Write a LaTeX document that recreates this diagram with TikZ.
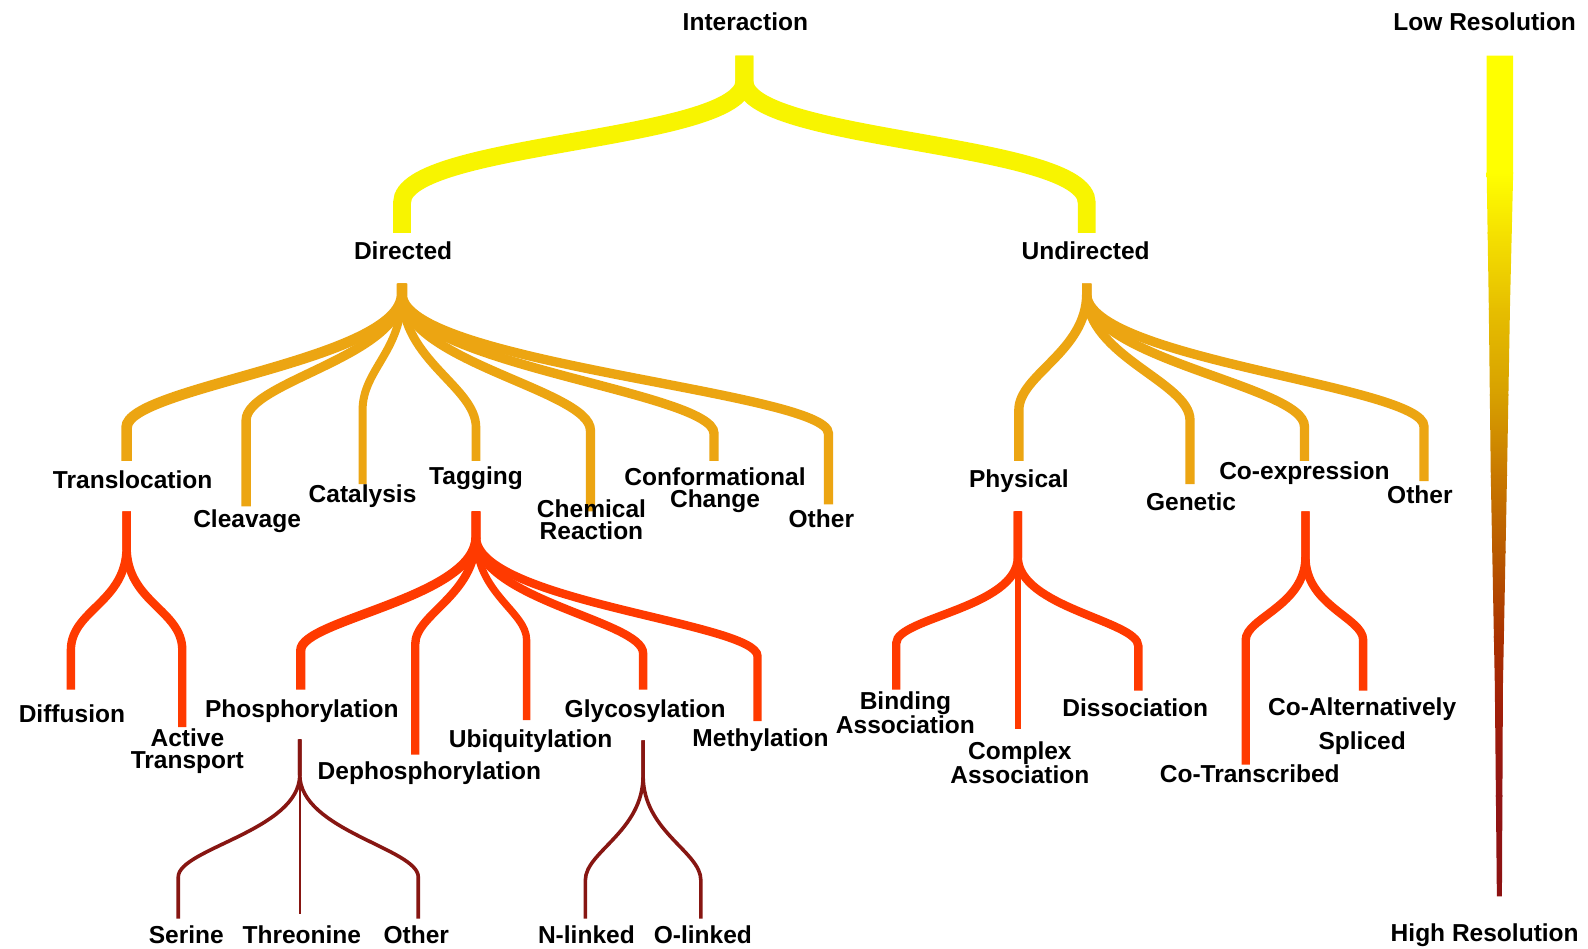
\documentclass[tikz,border=0pt]{standalone}
\usepackage{fontspec}
\setmainfont{Liberation Sans}
\usetikzlibrary{calc}
\definecolor{cyel}{RGB}{248,244,0}
\definecolor{corg}{RGB}{236,165,18}
\definecolor{cred}{RGB}{255,58,0}
\definecolor{cdrk}{RGB}{135,22,18}
\definecolor{bar0}{RGB}{255,255,0}
\definecolor{bar2}{RGB}{245,225,0}
\definecolor{bar3}{RGB}{230,190,0}
\definecolor{bar4}{RGB}{215,160,0}
\definecolor{bar5}{RGB}{200,120,0}
\definecolor{bar6}{RGB}{185,90,0}
\definecolor{bar7}{RGB}{170,50,0}
\definecolor{bar8}{RGB}{160,30,10}
\definecolor{bar9}{RGB}{145,20,20}
\definecolor{barx}{RGB}{140,18,18}
% #1 style, #2 parent stem top, #3 straight drop, #4 first control, #5 second control, #6 child end, #7 y where the curve turns vertical
\newcommand\twig[7]{\draw[#1] (#2) -- ++(0,#3) .. controls +(0,#4) and +(0,-#5) .. (#6 |- 0,#7) -- (#6);}
\begin{document}
\begin{tikzpicture}[x=0.76pt,y=-0.76pt, line cap=butt,
 lbl/.style={font=\bfseries\fontsize{18.4}{16.7}\selectfont, inner sep=0pt, align=center},
 yl/.style={draw=cyel, line width=13.4pt},
 ol/.style={draw=corg, line width=7pt},
 rl/.style={draw=cred, line width=6.3pt},
 dl/.style={draw=cdrk, line width=2.7pt}]
\useasboundingbox (0,0) rectangle (1568,937);
\fill[white] (0,0) rectangle (1568,937);
% stem tops and branch ends
\coordinate (int-s) at (735,55);
\coordinate (dir-e) at (397,230);
\coordinate (und-e) at (1073,230);
\coordinate (dir-s) at (397,280);
\coordinate (und-s) at (1073,280);
\coordinate (tra-e) at (125,455);
\coordinate (cle-e) at (243,500);
\coordinate (cat-e) at (358,478);
\coordinate (tag-e) at (470,455);
\coordinate (che-e) at (583,505);
\coordinate (con-e) at (705,455);
\coordinate (otha-e) at (818,498);
\coordinate (phy-e) at (1006,455);
\coordinate (gen-e) at (1175,478);
\coordinate (coe-e) at (1288,455);
\coordinate (othb-e) at (1406,475);
\coordinate (tra-s) at (125,505);
\coordinate (tag-s) at (470,505);
\coordinate (phy-s) at (1005,505);
\coordinate (coe-s) at (1289,505);
\coordinate (dif-e) at (70,681);
\coordinate (act-e) at (180,718);
\coordinate (pho-e) at (297,681);
\coordinate (dep-e) at (410,745);
\coordinate (ubi-e) at (520,711);
\coordinate (gly-e) at (635,681);
\coordinate (met-e) at (748,712);
\coordinate (bin-e) at (885,681);
\coordinate (com-e) at (1005,720);
\coordinate (dis-e) at (1124,682);
\coordinate (cot-e) at (1230,755);
\coordinate (coa-e) at (1346,682);
\coordinate (pho-s) at (296,730);
\coordinate (gly-s) at (635,731);
\coordinate (ser-e) at (176,907);
\coordinate (thr-e) at (296,902);
\coordinate (othc-e) at (413,907);
\coordinate (nli-e) at (578,907);
\coordinate (oli-e) at (692,907);
% level 1
\twig{yl}{int-s}{25}{60}{60}{dir-e}{200}
\twig{yl}{int-s}{25}{60}{60}{und-e}{200}
% level 2 directed
\twig{ol,line width=8pt}{dir-s}{10}{66}{40}{tra-e}{422}
\twig{ol}{dir-s}{10}{62}{38}{cle-e}{415}
\twig{ol,line width=6pt}{dir-s}{10}{57}{40}{cat-e}{405}
\twig{ol,line width=6.5pt}{dir-s}{10}{66}{40}{tag-e}{422}
\twig{ol}{dir-s}{10}{67}{40}{che-e}{425}
\twig{ol}{dir-s}{10}{69}{41}{con-e}{428}
\twig{ol}{dir-s}{10}{69}{41}{otha-e}{428}
% level 2 undirected
\twig{ol}{und-s}{10}{57}{35}{phy-e}{405}
\twig{ol}{und-s}{10}{62}{38}{gen-e}{415}
\twig{ol}{und-s}{10}{65}{40}{coe-e}{421}
\twig{ol}{und-s}{10}{65}{40}{othb-e}{421}
% level 3
\twig{rl}{tra-s}{35}{55}{40}{dif-e}{642}
\twig{rl}{tra-s}{35}{55}{40}{act-e}{642}
\twig{rl,line width=7pt}{tag-s}{25}{60}{30}{pho-e}{642}
\twig{rl}{tag-s}{25}{58}{30}{dep-e}{636}
\twig{rl,line width=5.5pt}{tag-s}{25}{56}{28}{ubi-e}{632}
\twig{rl}{tag-s}{25}{62}{32}{gly-e}{645}
\twig{rl}{tag-s}{25}{64}{33}{met-e}{648}
\twig{rl}{phy-s}{45}{50}{25}{bin-e}{635}
\draw[rl,line width=4.5pt] (phy-s) -- (com-e);
\twig{rl}{phy-s}{45}{50}{25}{dis-e}{638}
\twig{rl}{coe-s}{45}{48}{22}{cot-e}{632}
\twig{rl}{coe-s}{45}{48}{22}{coa-e}{632}
% level 4
\twig{dl}{pho-s}{35}{55}{28}{ser-e}{866}
\draw[dl,line width=1.9pt] (pho-s) -- (thr-e);
\twig{dl}{pho-s}{35}{55}{28}{othc-e}{866}
\twig{dl}{gly-s}{35}{55}{28}{nli-e}{869}
\twig{dl}{gly-s}{35}{55}{28}{oli-e}{869}
% resolution bar: tapered wedge, coloured in bands
\begin{scope}
\clip (1468,55) -- (1494,55) -- (1494,175) -- (1491,300) -- (1488,470) -- (1484,677) -- (1483,885) -- (1478,885) -- (1476,677) -- (1472,470) -- (1470,300) -- (1468,175) -- cycle;
\fill[bar0] (1460,54) rectangle (1500,172);
\foreach \ya/\yb/\ca/\cb in {170/231/bar0/bar2, 230/306/bar2/bar3, 305/391/bar3/bar4, 390/471/bar4/bar5, 470/546/bar5/bar6, 545/629/bar6/bar7, 628/703/bar7/bar8, 702/786/bar8/bar9, 785/886/bar9/barx}
  \shade[top color=\ca, bottom color=\cb] (1460,\ya) rectangle (1500,\yb);
\end{scope}
% labels
\node[lbl,anchor=base] (int) at (736,30) {Interaction};
\node[lbl,anchor=base] (dir) at (398,256) {Directed};
\node[lbl,anchor=base] (und) at (1072,256) {Undirected};
\node[lbl,anchor=base] (tra) at (131,482) {Translocation};
\node[lbl,anchor=base] (cle) at (244,521) {Cleavage};
\node[lbl,anchor=base] (cat) at (358,496) {Catalysis};
\node[lbl,anchor=base] (tag) at (470,478) {Tagging};
\node[lbl] (che) at (584,513) {Chemical\\Reaction};
\node[lbl] (con) at (706,484) {Conformational\\Change};
\node[lbl,anchor=base] (otha) at (811,521) {Other};
\node[lbl,anchor=base] (phy) at (1006,481) {Physical};
\node[lbl,anchor=base] (gen) at (1176,504) {Genetic};
\node[lbl,anchor=base] (coe) at (1288,473) {Co-expression};
\node[lbl,anchor=base] (othb) at (1402,497) {Other};
\node[lbl,anchor=base] (dif) at (71,713) {Diffusion};
\node[lbl] (act) at (185,742) {Active\\Transport};
\node[lbl,anchor=base] (pho) at (298,708) {Phosphorylation};
\node[lbl,anchor=base] (dep) at (424,770) {Dephosphorylation};
\node[lbl,anchor=base] (ubi) at (524,738) {Ubiquitylation};
\node[lbl,anchor=base] (gly) at (637,708) {Glycosylation};
\node[lbl,anchor=base] (met) at (751,737) {Methylation};
\node[lbl] (bin) at (894,704) {Binding\\Association};
\node[lbl] (com) at (1007,753) {Complex\\Association};
\node[lbl,anchor=base] (dis) at (1121,707) {Dissociation};
\node[lbl,anchor=base] (cot) at (1234,773) {Co-Transcribed};
\node[lbl] (coa) at (1345,717) {Co-Alternatively\\[7.6pt]Spliced};
\node[lbl,anchor=base] (ser) at (184,932) {Serine};
\node[lbl,anchor=base] (thr) at (298,932) {Threonine};
\node[lbl,anchor=base] (othc) at (411,932) {Other};
\node[lbl,anchor=base] (nli) at (579,932) {N-linked};
\node[lbl,anchor=base] (oli) at (694,932) {O-linked};
\node[lbl,anchor=base] (low) at (1466,30) {Low Resolution};
\node[lbl,anchor=base] (high) at (1466,930) {High Resolution};
\end{tikzpicture}
\end{document}
